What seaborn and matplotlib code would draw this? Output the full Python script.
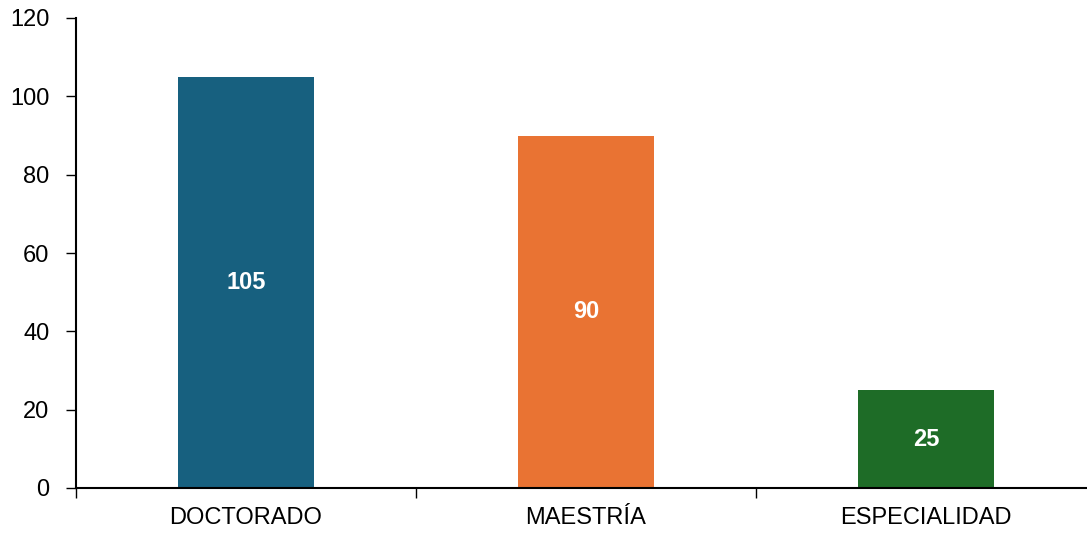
import matplotlib
matplotlib.use("Agg")
import pandas as pd
import seaborn as sns
import matplotlib.pyplot as plt
from matplotlib.ticker import FixedLocator

# Datos del grafico
niveles = ["DOCTORADO", "MAESTRÍA", "ESPECIALIDAD"]
cantidades = [105, 90, 25]
colores = ["#17607f", "#e97333", "#1e6c27"]

df = pd.DataFrame({"nivel": niveles, "cantidad": cantidades})

sns.set_theme(style="white")
plt.rcParams["font.family"] = ["Liberation Sans", "DejaVu Sans"]
plt.rcParams["text.color"] = "black"
plt.rcParams["xtick.color"] = "black"
plt.rcParams["ytick.color"] = "black"

fig = plt.figure(figsize=(10.87, 5.35), dpi=100)
ax = fig.add_axes([76 / 1087, 47 / 535, 1020 / 1087, 470 / 535])

sns.barplot(data=df, x="nivel", y="cantidad", hue="nivel", palette=colores,
            width=0.4, legend=False, ax=ax, saturation=1, linewidth=0)

# Etiquetas dentro de las barras
for i, v in enumerate(cantidades):
    ax.text(i, v / 2, str(v), ha="center", va="center", color="white",
            fontsize=17, fontweight="bold")

ax.set_xlim(-0.5, 2.5)
ax.set_ylim(0, 120)
ax.set_yticks(range(0, 121, 20))
ax.set_xlabel("")
ax.set_ylabel("")

ax.tick_params(axis="y", which="major", direction="out", length=7, width=1,
               labelsize=17, labelcolor="black", left=True, pad=12)
ax.tick_params(axis="x", which="major", length=0, labelsize=17,
               labelcolor="black", pad=14)
ax.xaxis.set_minor_locator(FixedLocator([-0.5, 0.5, 1.5, 2.5]))
ax.tick_params(axis="x", which="minor", direction="out", length=7, width=1,
               color="black", bottom=True)

sns.despine(ax=ax)
for s in ["left", "bottom"]:
    ax.spines[s].set_color("black")
    ax.spines[s].set_linewidth(1.5)

fig.savefig("out.png", dpi=100)
